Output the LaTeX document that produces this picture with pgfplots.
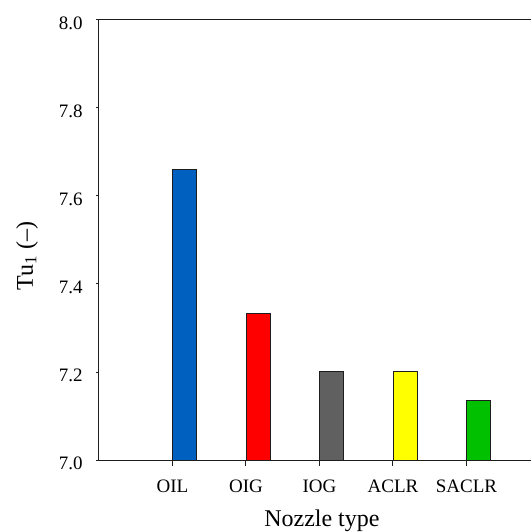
\documentclass[border=0pt]{standalone}
\usepackage{pgfplots}
\pgfplotsset{compat=1.18}
\usepackage{fontspec}
\setmainfont{Liberation Serif}

\definecolor{barblue}{RGB}{0,96,192}
\definecolor{barred}{RGB}{255,0,0}
\definecolor{bargray}{RGB}{96,96,96}
\definecolor{baryellow}{RGB}{255,255,0}
\definecolor{bargreen}{RGB}{0,192,0}
\definecolor{spine}{RGB}{30,30,30}

\begin{document}
\begin{tikzpicture}
\begin{axis}[
  at={(0,0)}, anchor=south west,
  scale only axis, width=432pt, height=440pt,
  xmin=0, xmax=5.878, ymin=7, ymax=8,
  axis x line*=bottom, axis y line*=left,
  axis line style={-, line width=1pt, spine},
  tick align=outside,
  xtick={1,2,3,4,5},
  xticklabels={OIL,OIG,IOG,ACLR,SACLR},
  ytick={7.0,7.2,7.4,7.6,7.8,8.0},
  minor tick num=0,
  xtick style={spine, line width=1pt, /pgfplots/major tick length=6pt},
  ytick style={spine, line width=1pt, /pgfplots/major tick length=3pt},
  /pgf/number format/assume math mode=true,
  yticklabel style={/pgf/number format/.cd, fixed, fixed zerofill, precision=1, /tikz/.cd,
    anchor=east, inner sep=0pt, xshift=-12pt, yshift=-3pt},
  xticklabel style={anchor=base, inner sep=0pt, yshift=-28pt},
  tick label style={font=\fontsize{19}{23}\selectfont},
  label style={font=\fontsize{24}{28}\selectfont},
  xlabel={Nozzle type},
  xlabel style={at={(axis description cs:0.516,0)}, anchor=base, inner sep=0pt, yshift=-66pt},
  ylabel={Tu\textsubscript{1} ({--})},
  ylabel style={at={(axis description cs:-0.1667,0.464)}, anchor=center, inner sep=0pt},
]
\addplot[ybar, bar width=24pt, bar shift=12pt, fill=barblue, draw=spine, line width=0.8pt] coordinates {(1,7.661)};
\addplot[ybar, bar width=24pt, bar shift=12pt, fill=barred, draw=spine, line width=0.8pt] coordinates {(2,7.333)};
\addplot[ybar, bar width=24pt, bar shift=12pt, fill=bargray, draw=spine, line width=0.8pt] coordinates {(3,7.202)};
\addplot[ybar, bar width=24pt, bar shift=12pt, fill=baryellow, draw=spine, line width=0.8pt] coordinates {(4,7.202)};
\addplot[ybar, bar width=24pt, bar shift=12pt, fill=bargreen, draw=spine, line width=0.8pt] coordinates {(5,7.135)};
\end{axis}
% closing line along the top of the plot area
\draw[spine, line width=1pt] (current axis.north west) -- (current axis.north east);
\pgfresetboundingbox
\path[use as bounding box] (-99pt,-72pt) rectangle (432pt,460pt);
\end{tikzpicture}
\end{document}
